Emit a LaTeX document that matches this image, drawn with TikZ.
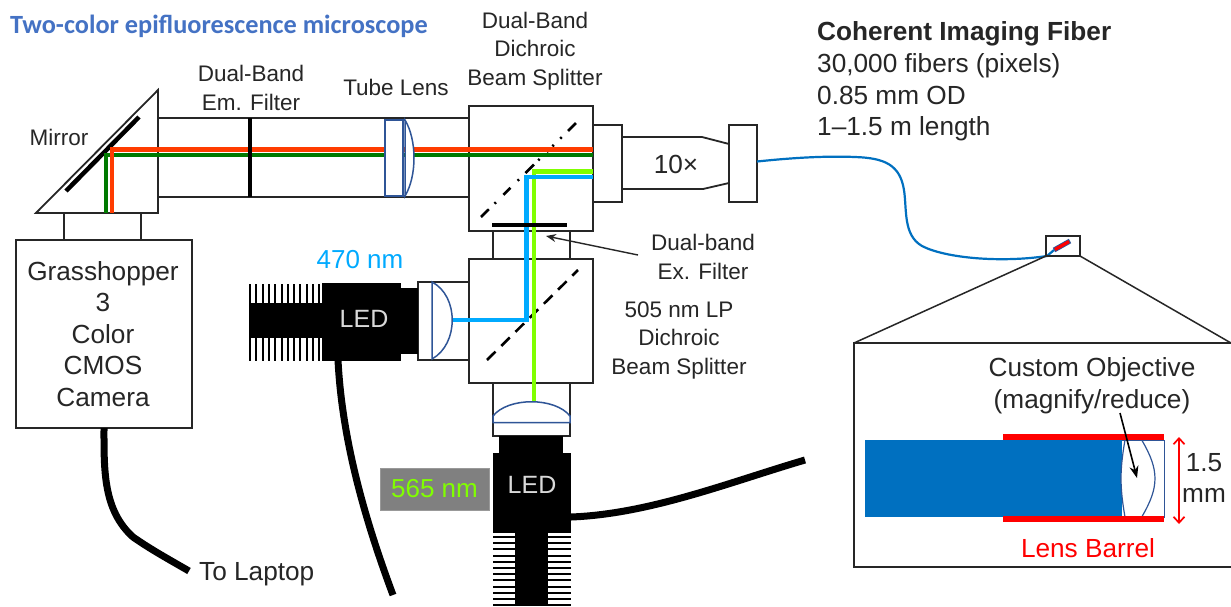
\documentclass[tikz,border=0pt]{standalone}
\usepackage{fontspec}
\setmainfont{Liberation Sans}
\newfontfamily\carlitofont{Carlito}
\usetikzlibrary{arrows.meta}
\definecolor{rayred}{HTML}{FF3C00}
\definecolor{raygreen}{HTML}{007A00}
\definecolor{raycyan}{HTML}{00AAFF}
\definecolor{raylime}{HTML}{80FF00}
\definecolor{lensblue}{HTML}{2F5597}
\definecolor{fiberblue}{HTML}{0070C0}
\definecolor{titleblue}{HTML}{4472C4}
\definecolor{ink}{HTML}{262626}
\tikzset{
  x=1pt,y=-1pt,
  part/.style={draw=ink,line width=1.8pt,fill=white},
  lens/.style={draw=lensblue,line width=1.5pt,fill=white},
  rayline/.style={line width=4.2pt,line cap=butt,line join=miter},
  cable/.style={draw=black,line width=7pt,line cap=butt},
  small/.style={inner sep=0pt,text=ink,align=center,font=\fontsize{22.5}{28.5}\selectfont},
  big/.style={inner sep=0pt,text=ink,align=center,font=\fontsize{26.2}{31.6}\selectfont},
  finline/.style={line width=2pt,draw=black},
}
\begin{document}
\begin{tikzpicture}
\useasboundingbox (0,0) rectangle (1231,606);
\fill[white] (0,0) rectangle (1231,606);

% tubes and boxes
\draw[part] (158,90) -- (158,213) -- (36,213) -- cycle;
\draw[part] (64,213) rectangle (141,240);
\draw[part] (16,240) rectangle (192,428);
\draw[ink,line width=1.8pt] (158,118) -- (469,118) (158,197) -- (469,197);
\draw[black,line width=4.5pt] (66,191) -- (139,117);

% camera cable
\coordinate (camout) at (104,428);
\coordinate (laptop) at (189,571);
\draw[cable] (camout) .. controls (104,470) and (103,510) .. (133,537) .. controls (150,549) and (170,560) .. (laptop);

% beam splitter boxes
\draw[part] (469,106) rectangle (593,231);
\draw[part] (493,231) rectangle (570,259);
\draw[part] (469,259) rectangle (593,383);
\draw[part] (418,282) rectangle (469,360);
\draw[part] (493,383) rectangle (570,436);
\draw[black,line width=2.6pt,dash pattern=on 11pt off 8pt on 2pt off 10.5pt on 10pt off 10pt on 2pt off 9pt on 12pt off 6pt on 2pt off 10pt on 2pt off 6pt on 2pt off 9pt on 2pt off 9pt on 11pt off 20pt] (481,217) -- (576,123);
\draw[black,line width=2.6pt,dash pattern=on 12pt off 8pt] (487,360) -- (578,270);

% objective
\draw[part] (622,137) -- (702,137) -- (729,144) -- (729,183) -- (703,189) -- (622,189) -- cycle;
\draw[part] (593,125) rectangle (622,202);
\draw[part] (729,125) rectangle (757,202);

% rays
\draw[rayline,raygreen] (106,213) -- (106,155) -- (593,155);
\draw[rayline,rayred] (112,213) -- (112,149.5) -- (593,149.5);
\draw[rayline,raylime] (593,171.5) -- (534,171.5) -- (534,402);
\draw[rayline,raycyan] (593,177) -- (526.5,177) -- (526.5,320) -- (452,320);
\draw[black,line width=3.4pt] (250,118) -- (250,197);
\draw[black,line width=3.6pt] (492,225) -- (567,225);

% tube lens
\draw[lens] (385,120) rectangle (403,196);
\draw[lens] (405,120) .. controls (417,140) and (417,176) .. (405,196) -- cycle;
\draw[lens,fill=none] (403,120) -- (405,120) (403,196) -- (405,196);

% condenser lenses
\draw[lens] (432,282) .. controls (459,296) and (459,344) .. (432,359) -- cycle;
\draw[lens] (493,416) .. controls (508,397) and (555,397) .. (570,416) -- (570,422.5) -- (493,422.5) -- cycle;

% LED 470
\fill[black] (322,283) rectangle (401,361);
\fill[black] (400,288) rectangle (418,354);
\foreach \i in {0,...,11} {
  \draw[finline] ({250+\i*6.3},284) -- ({250+\i*6.3},361);
}
\fill[black] (249,303) rectangle (322,338);
\node[inner sep=0pt,text=white!85!black,font=\fontsize{25}{30}\selectfont] (led1) at (364,319) {LED};
\coordinate (led1out) at (338,360);
\coordinate (led1end) at (393,595);
\draw[cable] (led1out) .. controls (342,440) and (365,520) .. (led1end);

% LED 565
\fill[black] (499,436) rectangle (563,454);
\fill[black] (493,453) rectangle (571,533);
\foreach \i in {0,...,11} {
  \draw[finline] (493,{537+\i*6.2}) -- (571,{537+\i*6.2});
}
\fill[black] (515,533) rectangle (548,606);
\node[inner sep=0pt,text=white!85!black,font=\fontsize{25}{30}\selectfont] (led2) at (532,485) {LED};
\coordinate (led2out) at (571,517);
\coordinate (led2end) at (805,460);
\draw[cable] (led2out) .. controls (650,514) and (730,482) .. (led2end);
\node[fill=gray!100,draw=gray!80,line width=0.6pt,minimum width=109pt,minimum height=42pt,inner sep=0pt,text=raylime,font=\fontsize{26}{31}\selectfont] (lab565) at (434.5,489) {565 nm};

% fibre and inset
\coordinate (fibstart) at (757,161.5);
\coordinate (fibend) at (1047,256);
\coordinate (rodstart) at (1054,250);
\coordinate (rodend) at (1070,241);
\draw[fiberblue,line width=2.2pt] (fibstart) .. controls (800,157) and (830,156) .. (855,157)
  .. controls (885,158) and (900,165) .. (904,190) .. controls (907,210) and (903,235) .. (922,246)
  .. controls (945,258) and (1000,263) .. (fibend) -- (rodstart);
\draw[ink,line width=1.5pt] (1046,236) rectangle (1080,256);
\coordinate (bl) at (1046,256);
\coordinate (br) at (1080,256);
\coordinate (il) at (854,343);
\coordinate (ir) at (1231,343);
\draw[ink,line width=1.5pt] (bl) -- (il) (br) -- (ir);
\draw[lensblue,line width=5pt] (rodstart) -- (rodend);
\draw[red,line width=3.2pt] (1055,249.5) -- (1069,241.5);

\draw[ink,line width=1.8pt,fill=white] (1232,343) -- (854,343) -- (854,567) -- (1232,567);
\fill[fiberblue] (865,440) rectangle (1122,517);
\fill[white] (1125,440) .. controls (1119.7,470) and (1119.7,487) .. (1125,517) -- cycle;
\draw[lensblue,line width=1pt] (1122,440) -- (1164,440) -- (1164,517) -- (1122,517);
\draw[lens,line width=1.2pt,fill=none] (1125,440) .. controls (1119.7,470) and (1119.7,487) .. (1125,517);
\draw[lens,line width=1.2pt,fill=none] (1141.7,440) .. controls (1159.4,470) and (1159.4,487) .. (1141.7,517);
\fill[red] (1003,434) rectangle (1164,440);
\fill[red] (1003,516) rectangle (1164,522);
\coordinate (dimtop) at (1179,437);
\coordinate (dimbot) at (1179,524);
\draw[red,line width=1.7pt,{Straight Barb[length=6pt,width=11pt]}-{Straight Barb[length=6pt,width=11pt]}] (dimtop) -- (dimbot);

% labels
\node[inner sep=0pt,anchor=west,text=titleblue,font=\carlitofont\bfseries\fontsize{26.3}{31}\selectfont] (title) at (10,26) {Two-color epifluorescence microscope};
\node[small] (emf) at (251,88) {Dual-Band\\Em. Filter};
\node[small] (tube) at (396,87) {Tube Lens};
\node[small] (dbs) at (535,51) {Dual-Band\\Dichroic\\Beam Splitter};
\node[small] (mirror) at (59,137) {Mirror};
\node[big] (cam) at (103,334) {Grasshopper\\3\\Color\\CMOS\\Camera};
\node[big,anchor=west] (laptoplab) at (199,574) {To Laptop};
\node[inner sep=0pt,text=raycyan,font=\fontsize{26}{31}\selectfont] (l470) at (360,260) {470 nm};
\node[small] (exf) at (703,257) {Dual-band\\Ex. Filter};
\node[small] (lp) at (679,340) {505 nm LP\\Dichroic\\Beam Splitter};
\node[big] (tenx) at (676,164) {10×};
\node[inner sep=0pt,anchor=north west,text=ink,align=left,font=\fontsize{26.2}{31.7}\selectfont] (fib) at (817,21.5) {\textbf{Coherent Imaging Fiber}\\30,000 fibers (pixels)\\0.85 mm OD\\1–1.5 m length};
\node[big] (cobj) at (1092,386) {Custom Objective\\(magnify/reduce)};
\node[big] (dim) at (1204,478) {1.5\\mm};
\node[big,text=red] (barrel) at (1088,548) {Lens Barrel};

% pointer arrows
\coordinate (exfrom) at (638,255);
\coordinate (exto) at (546,236);
\draw[ink,line width=1.4pt,-{Stealth[length=10pt,width=8pt]}] (exfrom) -- (exto);
\coordinate (objfrom) at (1120,413);
\coordinate (objto) at (1137,478);
\draw[black,line width=1.6pt,-{Stealth[length=12pt,width=9pt]}] (objfrom) -- (objto);
\end{tikzpicture}
\end{document}
